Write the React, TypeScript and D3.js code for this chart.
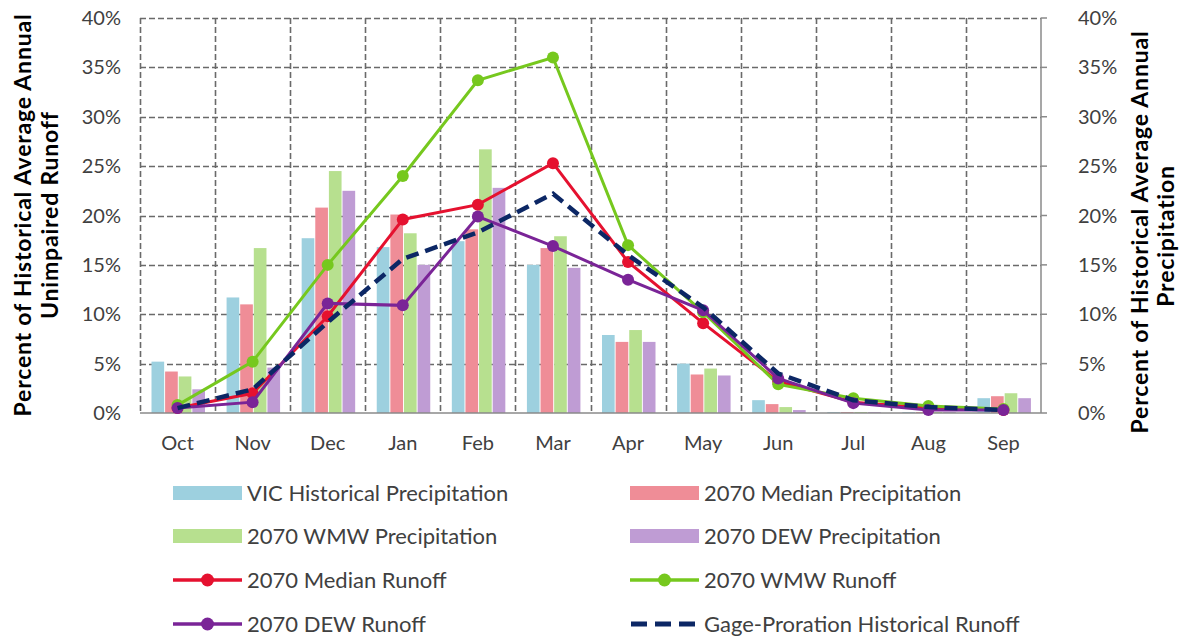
import React, { useEffect, useRef } from 'react';
import * as d3 from 'd3';

const months = ['Oct', 'Nov', 'Dec', 'Jan', 'Feb', 'Mar', 'Apr', 'May', 'Jun', 'Jul', 'Aug', 'Sep'];

// precipitation bars (% of annual)
const vicHistPrecip = [5.2, 11.7, 17.7, 16.8, 17.4, 15.0, 7.9, 5.0, 1.3, 0.1, 0.1, 1.5];
const medianPrecip = [4.2, 11.0, 20.8, 20.1, 18.6, 16.7, 7.2, 3.9, 0.9, 0.1, 0.1, 1.7];
const wmwPrecip = [3.7, 16.7, 24.5, 18.2, 26.7, 17.9, 8.4, 4.5, 0.6, 0.1, 0.1, 2.0];
const dewPrecip = [2.4, 4.6, 22.5, 15.0, 22.8, 14.7, 7.2, 3.8, 0.3, 0.1, 0.1, 1.5];

// runoff lines
const medianRunoff = [0.5, 2.0, 9.8, 19.6, 21.1, 25.3, 15.3, 9.1, 3.2, 1.1, 0.5, 0.3];
const wmwRunoff = [0.8, 5.2, 15.0, 24.0, 33.7, 36.0, 17.0, 10.2, 2.9, 1.5, 0.7, 0.4];
const dewRunoff = [0.5, 1.1, 11.1, 10.9, 19.9, 16.9, 13.5, 10.4, 3.5, 1.0, 0.3, 0.3];
const gageRunoff = [0.5, 2.4, 9.2, 15.6, 18.3, 22.2, 16.0, 10.7, 4.0, 1.3, 0.6, 0.3];

const yTicks = [0, 5, 10, 15, 20, 25, 30, 35, 40];

const barSeries = [
  { name: 'VIC Historical Precipitation', values: vicHistPrecip, color: '#9dd0df' },
  { name: '2070 Median Precipitation', values: medianPrecip, color: '#ef8d97' },
  { name: '2070 WMW Precipitation', values: wmwPrecip, color: '#b7e08f' },
  { name: '2070 DEW Precipitation', values: dewPrecip, color: '#bf9cd4' },
];

const lineSeries = [
  { name: '2070 Median Runoff', values: medianRunoff, color: '#e5112f', dashed: false },
  { name: '2070 WMW Runoff', values: wmwRunoff, color: '#76c81e', dashed: false },
  { name: '2070 DEW Runoff', values: dewRunoff, color: '#7a2497', dashed: false },
  { name: 'Gage-Proration Historical Runoff', values: gageRunoff, color: '#0c2765', dashed: true },
];

const FONT = 'Lato, "Open Sans", sans-serif';

export default function App() {
  const svgRef = useRef<SVGSVGElement>(null);

  useEffect(() => {
    if (!svgRef.current) return;
    const svg = d3.select(svgRef.current);
    svg.selectAll('*').remove();

    const left = 140;
    const right = 1041;
    const top = 18;
    const bottom = 413;

    const x = d3.scaleBand<string>().domain(months).range([left, right]);
    const x1 = d3
      .scaleBand<string>()
      .domain(barSeries.map((s) => s.name))
      .range([11.5, 65])
      .paddingInner(0.07);
    const y = d3.scaleLinear().domain([0, 40]).range([bottom, top]);

    const grid = svg.append('g');
    // horizontal grid
    grid
      .selectAll('line.h')
      .data(yTicks.filter((t) => t > 0))
      .enter()
      .append('line')
      .attr('x1', left)
      .attr('x2', right)
      .attr('y1', (d) => Math.round(y(d)) + 0.5)
      .attr('y2', (d) => Math.round(y(d)) + 0.5)
      .attr('stroke', '#6a6a6a')
      .attr('stroke-width', 1.6)
      .attr('stroke-dasharray', '6,3');
    // vertical grid at band edges
    grid
      .selectAll('line.v')
      .data(months)
      .enter()
      .append('line')
      .attr('x1', (d) => Math.round(x(d)!) + 0.5)
      .attr('x2', (d) => Math.round(x(d)!) + 0.5)
      .attr('y1', top)
      .attr('y2', bottom)
      .attr('stroke', '#6a6a6a')
      .attr('stroke-width', 1.6)
      .attr('stroke-dasharray', '6,3');

    // bars
    barSeries.forEach((s) => {
      svg
        .append('g')
        .selectAll('rect')
        .data(s.values)
        .enter()
        .append('rect')
        .attr('x', (_, i) => x(months[i])! + x1(s.name)!)
        .attr('width', x1.bandwidth())
        .attr('y', (d) => y(d))
        .attr('height', (d) => bottom - y(d))
        .attr('fill', s.color);
    });

    // axes lines
    svg
      .append('line')
      .attr('x1', left)
      .attr('x2', right)
      .attr('y1', bottom)
      .attr('y2', bottom)
      .attr('stroke', '#8a8a8a')
      .attr('stroke-width', 1.5);
    svg
      .append('line')
      .attr('x1', right)
      .attr('x2', right)
      .attr('y1', top)
      .attr('y2', bottom)
      .attr('stroke', '#8a8a8a')
      .attr('stroke-width', 1.5);
    svg
      .append('g')
      .selectAll('line')
      .data(yTicks)
      .enter()
      .append('line')
      .attr('x1', right)
      .attr('x2', right + 6)
      .attr('y1', (d) => y(d))
      .attr('y2', (d) => y(d))
      .attr('stroke', '#8a8a8a')
      .attr('stroke-width', 1.5);

    // lines
    const line = d3
      .line<number>()
      .x((_, i) => x(months[i])! + x.bandwidth() / 2)
      .y((d) => y(d));

    lineSeries.forEach((s) => {
      svg
        .append('path')
        .datum(s.values)
        .attr('d', line)
        .attr('fill', 'none')
        .attr('stroke', s.color)
        .attr('stroke-width', s.dashed ? 4.5 : 3)
        .attr('stroke-dasharray', s.dashed ? '13,7' : null);
      if (!s.dashed) {
        svg
          .append('g')
          .selectAll('circle')
          .data(s.values)
          .enter()
          .append('circle')
          .attr('cx', (_, i) => x(months[i])! + x.bandwidth() / 2)
          .attr('cy', (d) => y(d))
          .attr('r', 6)
          .attr('fill', s.color);
      }
    });

    // tick labels
    const labelStyle = (sel: any) =>
      sel.attr('font-family', FONT).attr('font-size', 20).attr('fill', '#404040');

    svg
      .append('g')
      .selectAll('text')
      .data(yTicks)
      .enter()
      .append('text')
      .attr('x', 121)
      .attr('y', (d) => y(d))
      .attr('dy', '0.35em')
      .attr('text-anchor', 'end')
      .text((d) => `${d}%`)
      .call(labelStyle);

    svg
      .append('g')
      .selectAll('text')
      .data(yTicks)
      .enter()
      .append('text')
      .attr('x', 1078)
      .attr('y', (d) => y(d))
      .attr('dy', '0.35em')
      .attr('text-anchor', 'start')
      .text((d) => `${d}%`)
      .call(labelStyle);

    svg
      .append('g')
      .selectAll('text')
      .data(months)
      .enter()
      .append('text')
      .attr('x', (d) => x(d)! + x.bandwidth() / 2)
      .attr('y', 443)
      .attr('dy', '0.35em')
      .attr('text-anchor', 'middle')
      .text((d) => d)
      .call(labelStyle);

    // axis titles
    const titleStyle = (sel: any) =>
      sel
        .attr('font-family', FONT)
        .attr('font-size', 23)
        .attr('font-weight', 'bold')
        .attr('letter-spacing', 0.8)
        .attr('fill', '#000')
        .attr('text-anchor', 'middle');

    svg
      .append('text')
      .attr('transform', 'translate(31,215) rotate(-90)')
      .text('Percent of Historical Average Annual')
      .call(titleStyle);
    svg
      .append('text')
      .attr('transform', 'translate(58,215) rotate(-90)')
      .text('Unimpaired Runoff')
      .call(titleStyle);
    svg
      .append('text')
      .attr('transform', 'translate(1148,232) rotate(-90)')
      .text('Percent of Historical Average Annual')
      .call(titleStyle);
    svg
      .append('text')
      .attr('transform', 'translate(1174,236) rotate(-90)')
      .text('Precipitation')
      .call(titleStyle);

    // legend
    const legendItems = [
      barSeries[0], barSeries[1],
      barSeries[2], barSeries[3],
      lineSeries[0], lineSeries[1],
      lineSeries[2], lineSeries[3],
    ];
    const colX = [173, 630];
    const rowY = [493, 536, 580, 624];
    const sw = 69;

    legendItems.forEach((item: any, i) => {
      const cx = colX[i % 2];
      const cy = rowY[Math.floor(i / 2)];
      const g = svg.append('g');
      if (i < 4) {
        g.append('rect')
          .attr('x', cx)
          .attr('y', cy - 7)
          .attr('width', sw)
          .attr('height', 14)
          .attr('fill', item.color);
      } else if (!item.dashed) {
        g.append('line')
          .attr('x1', cx)
          .attr('x2', cx + sw)
          .attr('y1', cy)
          .attr('y2', cy)
          .attr('stroke', item.color)
          .attr('stroke-width', 3.5);
        g.append('circle')
          .attr('cx', cx + sw / 2)
          .attr('cy', cy)
          .attr('r', 6.5)
          .attr('fill', item.color);
      } else {
        g.append('line')
          .attr('x1', cx + 1)
          .attr('x2', cx + sw)
          .attr('y1', cy)
          .attr('y2', cy)
          .attr('stroke', item.color)
          .attr('stroke-width', 5)
          .attr('stroke-dasharray', '16,8');
      }
      g.append('text')
        .attr('x', cx + sw + 5)
        .attr('y', cy)
        .attr('dy', '0.35em')
        .attr('font-family', FONT)
        .attr('font-size', 22)
        .attr('fill', '#404040')
        .text(item.name);
    });
  }, []);

  return (
    <svg
      ref={svgRef}
      width={1182}
      height={639}
      style={{ position: 'absolute', left: 0, top: 0, background: '#fff' }}
    />
  );
}
